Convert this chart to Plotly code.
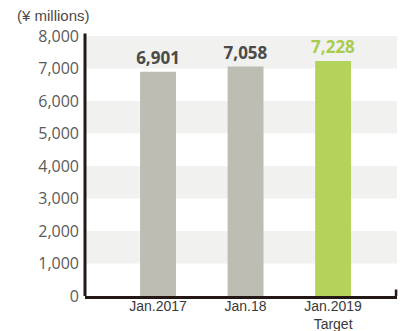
import plotly.graph_objects as go

categories = ["Jan.2017", "Jan.18", "Jan.2019<br>Target"]
values = [6901, 7058, 7228]
bar_colors = ["#bdbdb4", "#bdbdb4", "#b3d35a"]
label_colors = ["#4a4a48", "#4a4a48", "#a9cc4e"]
y_ticks = [0, 1000, 2000, 3000, 4000, 5000, 6000, 7000, 8000]
band_ranges = [(1000, 2000), (3000, 4000), (5000, 6000), (7000, 8000)]

fig = go.Figure()
fig.add_trace(go.Bar(
    x=list(range(len(categories))), y=values,
    marker=dict(color=bar_colors, line=dict(width=0)),
    width=0.41,
    text=[f"{v:,}" for v in values],
    textposition="outside",
    constraintext="none",
    cliponaxis=False,
    textfont=dict(family="Open Sans, sans-serif", size=17, color=label_colors, weight="bold"),
))

shapes = []
for a, b in band_ranges:
    shapes.append(dict(type="rect", xref="paper", yref="y", x0=0, x1=1, y0=a, y1=b,
                       fillcolor="#f1f1f0", line=dict(width=0), layer="below"))
# small end tick at right of baseline
shapes.append(dict(type="line", xref="paper", yref="paper", x0=0.997, x1=0.997, y0=0, y1=0.025,
                   line=dict(color="#231815", width=2.5)))
# left axis extends slightly above top
shapes.append(dict(type="line", xref="paper", yref="paper", x0=0, x1=0, y0=0, y1=1.01,
                   line=dict(color="#231815", width=3)))

fig.update_layout(
    width=400, height=331,
    margin=dict(l=85, r=3, t=36, b=35),
    paper_bgcolor="white", plot_bgcolor="white",
    showlegend=False,
    shapes=shapes,
    xaxis=dict(range=[-0.834, 2.73], tickmode="array", tickvals=list(range(len(categories))),
               ticktext=categories, showgrid=False, zeroline=False, automargin=False,
               showline=True, linecolor="#231815", linewidth=3, ticklabelstandoff=-5,
               tickfont=dict(family="Liberation Sans, Arial, sans-serif", size=14, color="#3a3a3a")),
    yaxis=dict(range=[0, 8000], tickmode="array", tickvals=y_ticks,
               ticktext=[f"{t:,}" for t in y_ticks], showgrid=False, zeroline=False,
               showline=False, ticks="", ticklabelstandoff=5, automargin=False,
               tickfont=dict(family="Open Sans, sans-serif", size=16, color="#5a5a58")),
    annotations=[dict(text="(¥ millions)", xref="paper", yref="paper", x=-0.224, y=1.0,
                      yshift=21, xanchor="left", yanchor="middle", showarrow=False,
                      font=dict(family="Liberation Sans, Arial, sans-serif", size=15, color="#4a4a48"))],
)

fig.write_html("out.html")
